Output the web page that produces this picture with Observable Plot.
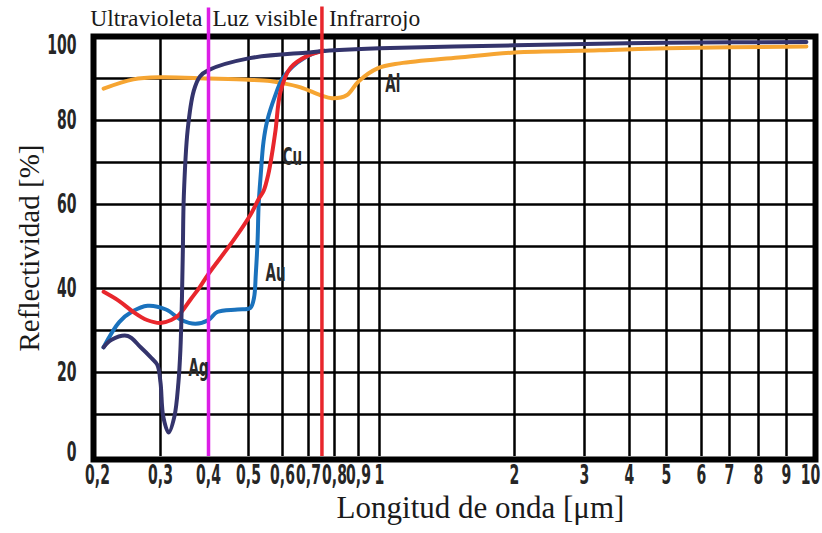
<!DOCTYPE html>
<html>
<head>
<meta charset="utf-8">
<script src="https://cdn.jsdelivr.net/npm/d3@7"></script>
<script src="https://cdn.jsdelivr.net/npm/@observablehq/plot@0.6"></script>
<style>
  html, body { margin: 0; padding: 0; background: #fff; }
  #chart svg { display: block; }
</style>
</head>
<body>
<div id="chart"></div>
<script>
// ---- Data (wavelength in µm, reflectance in %) ----
const agWave = [0.208,0.219,0.243,0.264,0.281,0.294,0.3,0.305,0.315,0.326,0.334,0.338,0.341,0.343,0.345,0.353,0.366,0.38,0.4,0.5,0.7,0.8,1,2,3.3,5,9.7];
const agRefl = [26,27.8,28.7,26,23.7,21.8,17.6,9.5,5.7,9.5,17.6,25.4,37,49,62,77.7,87,90.5,92,94.8,96.2,96.7,97.2,97.9,98.3,98.5,98.7];

const cuWave = [0.208,0.23,0.252,0.275,0.3,0.32,0.335,0.36,0.38,0.4,0.46,0.505,0.528,0.542,0.556,0.567,0.578,0.594,0.63,0.7,0.76];
const cuRefl = [39.2,37,34.4,32.5,31.8,32.5,33.7,37.5,40.4,43.5,51.5,57.5,61.3,63.2,67.2,72,77.7,87,92.6,95.5,96.6];

const auWave = [0.208,0.23,0.25,0.276,0.31,0.34,0.37,0.4,0.42,0.47,0.505,0.515,0.52,0.525,0.528,0.534,0.542,0.553,0.575,0.6,0.656,0.718,0.76];
const auRefl = [26,32,34.5,35.9,35,32.5,31.6,32.5,34.4,35,35.4,37.8,43.5,51.5,60,67.2,75,80,85.5,90,93.8,96,96.6];

const alWave = [0.208,0.252,0.3,0.4,0.5,0.561,0.594,0.668,0.745,0.79,0.849,0.9,0.99,1.11,1.5,2,3.3,5,9.7];
const alRefl = [87.6,89.8,90.3,90,89.7,89.4,89,87.9,86,85.3,86,89.3,92.4,93.6,95,96.2,96.7,97.2,97.6];

const metals = ["Al","Au","Cu","Ag"];
const labelWave = [1.03, 0.548, 0.6, 0.355];
const labelRefl = [88.8, 43.6, 71.2, 21];

const xTicks = [0.2,0.3,0.4,0.5,0.6,0.7,0.8,0.9,1,2,3,4,5,6,7,8,9,10];
const xTickLabels = ["0,2","0,3","0,4","0,5","0,6","0,7","0,8","0,9","1","2","3","4","5","6","7","8","9","10"];
const xGrid = [0.3,0.4,0.5,0.6,0.7,0.8,0.9,1,2,3,4,5,6,7,8,9];
const yTicks = [0,20,40,60,80,100];
const yGrid = [10,20,30,40,50,60,70,80,90];

const regionNames = ["Ultravioleta","Luz visible","Infrarrojo"];
const regionBounds = [0.4, 0.75];

const xTitle = "Longitud de onda [μm]";
const yTitle = "Reflectividad [%]";

// ---- Build tables ----
const seriesWave = {Ag: agWave, Cu: cuWave, Au: auWave, Al: alWave};
const seriesRefl = {Ag: agRefl, Cu: cuRefl, Au: auRefl, Al: alRefl};
const rows = metals.flatMap(m => seriesWave[m].map((w, i) => ({metal: m, w, r: seriesRefl[m][i]})));
const labels = metals.map((m, i) => ({metal: m, w: labelWave[i], r: labelRefl[i]}));
const xTickRows = xTicks.map((v, i) => ({v, label: xTickLabels[i]}));
const lastX = xTickRows.length - 1;

const colors = {Ag: "#34346c", Cu: "#e8262c", Au: "#1a72bd", Al: "#f6a532"};
const narrow = "'DejaVu Sans Condensed', 'DejaVu Sans', sans-serif";
const serif = "'Liberation Serif', 'DejaVu Serif', serif";
const tickStyle = {fontFamily: narrow, fontWeight: "bold", fontSize: 26, fill: "#262626"};

const plot = Plot.plot({
  width: 822,
  height: 533,
  marginLeft: 93,
  marginRight: 7,
  marginTop: 36,
  marginBottom: 74,
  style: {background: "#fff", overflow: "visible"},
  x: {type: "log", domain: xTicks, range: [97,160,208,248,282,308,334,358,379,514,584,629,666,701,729,758,786,814], axis: null},
  y: {type: "linear", domain: [0, 100], range: [456, 36], axis: null},
  marks: [
    Plot.ruleX(xGrid, {x: d => d, y1: 0, y2: 100, stroke: "#000", strokeWidth: 2.5}),
    Plot.ruleY(yGrid, {y: d => d, stroke: "#000", strokeWidth: 2.5}),
    Plot.frame({stroke: "#000", strokeWidth: 6}),
    Plot.line(rows, {x: "w", y: "r", z: "metal", stroke: d => colors[d.metal], strokeWidth: 4, curve: "catmull-rom", strokeLinecap: "round", strokeLinejoin: "round"}),
    Plot.ruleX([regionBounds[0]], {x: d => d, y1: 0, y2: 106.8, stroke: "#dc1ee6", strokeWidth: 3.5}),
    Plot.ruleX([regionBounds[1]], {x: d => d, y1: 0, y2: 107, stroke: "#e8262c", strokeWidth: 3.5}),
    // region labels
    Plot.text([regionNames[0]], {x: () => regionBounds[0], y: () => 100, text: d => d, textAnchor: "end", dx: -6, dy: -18.5, fontFamily: serif, fontSize: 23.5, fill: "#1a1a1a"}),
    Plot.text([regionNames[1]], {x: () => regionBounds[0], y: () => 100, text: d => d, textAnchor: "start", dx: 4, dy: -18.5, fontFamily: serif, fontSize: 23.5, fill: "#1a1a1a"}),
    Plot.text([regionNames[2]], {x: () => regionBounds[1], y: () => 100, text: d => d, textAnchor: "start", dx: 7, dy: -18.5, fontFamily: serif, fontSize: 23.5, fill: "#1a1a1a"}),
    // curve labels
    Plot.text(labels, {x: "w", y: "r", text: "metal", textAnchor: "start", fontFamily: narrow, fontWeight: "bold", fontSize: 25, fill: "#2a2a2a"}),
    // x tick labels
    Plot.text(xTickRows.slice(0, lastX), {x: "v", text: "label", frameAnchor: "bottom", dy: 24, ...tickStyle}),
    Plot.text(xTickRows.slice(lastX), {x: "v", text: "label", frameAnchor: "bottom", dx: -4, dy: 24, ...tickStyle}),
    // y tick labels
    Plot.text(yTicks.filter(d => d > 0 && d < 100), {y: d => d, text: d => String(d), frameAnchor: "left", textAnchor: "end", dx: -17, ...tickStyle}),
    Plot.text([yTicks[yTicks.length - 1]], {y: d => d, text: d => String(d), frameAnchor: "left", textAnchor: "end", dx: -17, dy: 9, ...tickStyle}),
    Plot.text([yTicks[0]], {y: d => d, text: d => String(d), frameAnchor: "left", textAnchor: "end", dx: -17, dy: -4, ...tickStyle}),
    // axis titles
    Plot.text([xTitle], {text: d => d, frameAnchor: "bottom", textAnchor: "middle", dx: 26, dy: 58, fontFamily: serif, fontSize: 31, fill: "#1a1a1a"}),
    Plot.text([yTitle], {text: d => d, frameAnchor: "left", textAnchor: "middle", rotate: -90, dx: -64, fontFamily: serif, fontSize: 29, fill: "#1a1a1a"})
  ]
});

// condensed look for the bold sans labels (horizontal squeeze around each anchor)
d3.select(plot).selectAll("g[font-weight='bold'] text").each(function() {
  const tr = this.getAttribute("transform");
  if (tr) {
    this.setAttribute("transform", tr + " scale(0.6,1)");
  } else {
    const x = +this.getAttribute("x") || 0, y = +this.getAttribute("y") || 0;
    this.setAttribute("transform", `translate(${x},${y}) scale(0.6,1) translate(${-x},${-y})`);
  }
});

document.getElementById("chart").appendChild(plot);
</script>
</body>
</html>
